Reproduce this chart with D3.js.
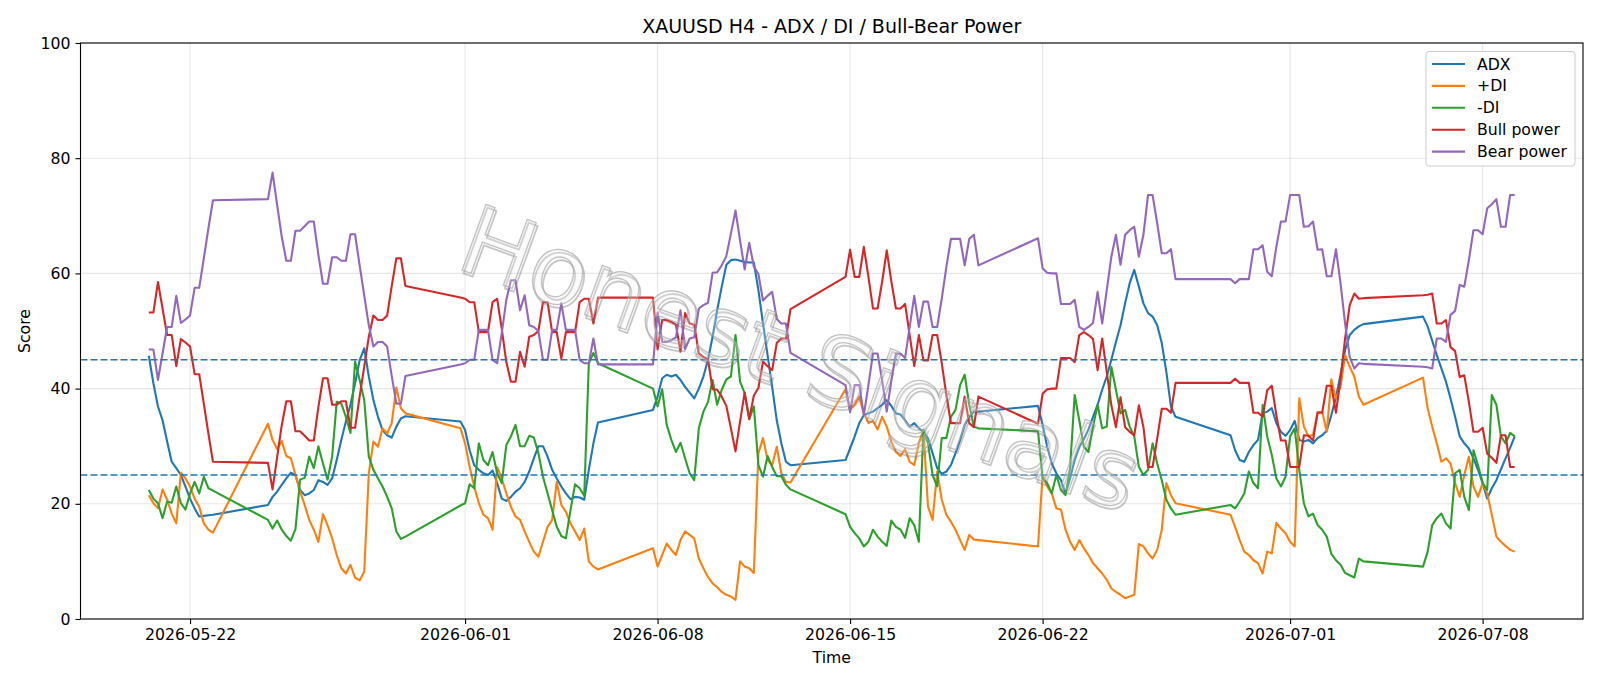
<!DOCTYPE html>
<head>
	<meta charset="utf-8">
	<script src="https://d3js.org/d3.v7.min.js"></script>
	<style type="text/css">
		body { margin: 0; background: #fff; }
		text { font-family: "DejaVu Sans", sans-serif; fill: #000; }
		.tick text { font-size: 15.7px; }
	</style>
</head>

<body>
	<script type="text/javascript">
		// H4 sessions: first bar of each trading block and number of bars in it
		const sessions = [
			["2026-05-20T12:00:00Z", 15],
			["2026-05-24T20:00:00Z", 31],
			["2026-05-31T20:00:00Z", 31],
			["2026-06-07T20:00:00Z", 31],
			["2026-06-14T20:00:00Z", 30],
			["2026-06-21T20:00:00Z", 31],
			["2026-06-28T20:00:00Z", 30],
			["2026-07-05T20:00:00Z", 21]
		];

		const adx = [
			45.7, 40.9, 36.9, 34.5, 30.8, 27.3, 26.2, 25.0, 23.0, 20.9, 19.2, 17.8, 17.9, 18.0, 18.1,
			19.8, 21.2, 22.1, 23.3, 24.4, 25.4, 25.0, 22.4, 21.5, 21.8, 22.4, 24.1, 23.8, 23.3, 24.4, 27.6, 31.1, 34.3, 37.2, 40.9, 44.9, 47.0, 42.1, 38.0, 35.1, 32.8, 31.9, 31.5, 33.4, 34.8, 35.2,
			34.3, 32.8, 29.3, 26.7, 25.9, 25.3, 25.0, 25.8, 23.6, 20.9, 20.5, 21.2, 22.1, 22.7, 23.8, 25.6, 27.9, 30.0, 30.0, 28.2, 25.9, 24.4, 23.0, 21.8, 20.8, 21.2, 21.1, 20.7, 25.9, 30.5, 34.1,
			36.3, 38.6, 41.8, 42.4, 42.1, 42.4, 41.5, 40.3, 39.3, 38.3, 40.0, 42.1, 45.0, 49.0, 53.6, 57.7, 61.5, 62.3, 62.4, 62.2, 62.0, 61.9, 61.9, 57.1, 51.3, 45.8, 40.3, 34.5, 30.5, 27.3, 26.7,
			27.6, 29.6, 31.7, 34.0, 35.4, 35.7, 36.0, 36.6, 37.2, 38.0, 37.0, 35.7, 35.5, 34.5, 33.4, 34.0, 33.1, 32.5, 31.4, 28.8, 26.2, 25.2, 25.6, 26.7, 28.8, 31.1, 33.7, 35.1, 36.0, 36.0,
			37.0, 33.7, 29.9, 27.0, 25.3, 24.1, 21.8, 24.4, 27.6, 29.8, 31.2, 32.9, 35.1, 37.2, 39.8, 42.1, 45.0, 48.1, 51.0, 54.8, 58.3, 60.6, 57.7, 54.8, 53.1, 52.5, 51.0, 47.9, 42.9, 36.9, 35.1,
			31.9, 29.3, 27.6, 27.3, 29.0, 30.2, 31.1, 35.7, 36.0, 36.6, 34.0, 32.5, 31.8, 32.8, 34.4, 31.1, 30.8, 31.1, 30.5, 31.4, 31.9, 32.7, 35.4, 38.5, 42.4, 46.7, 49.3, 50.2, 50.8, 51.2,
			52.5, 50.8, 48.3, 45.8, 43.5, 41.2, 38.3, 35.1, 31.7, 30.5, 29.6, 27.9, 25.9, 23.6, 20.9, 22.7, 24.1, 26.0, 27.9, 29.7, 31.7
		];
		const plusDI = [
			21.5, 20.1, 19.2, 22.5, 20.7, 18.3, 16.6, 25.4, 24.4, 23.0, 20.9, 19.5, 16.6, 15.5, 15.0,
			33.9, 31.1, 29.5, 30.9, 28.3, 27.9, 25.0, 22.1, 19.8, 17.2, 15.5, 13.4, 18.2, 16.3, 14.0, 11.1, 8.8, 7.9, 9.4, 7.2, 6.7, 8.2, 25.3, 30.8, 29.9, 33.1, 32.2, 34.0, 40.2, 36.6, 35.7,
			33.1, 30.5, 26.4, 23.0, 20.1, 18.1, 17.5, 15.5, 26.4, 24.4, 21.8, 19.5, 17.8, 17.2, 15.2, 13.4, 11.7, 10.8, 13.4, 16.0, 17.2, 23.8, 19.8, 18.6, 16.6, 15.2, 13.7, 15.7, 10.0, 9.1, 8.6,
			12.3, 9.1, 11.1, 13.1, 12.0, 11.1, 13.7, 15.2, 14.6, 14.0, 10.5, 8.8, 7.3, 6.2, 5.5, 4.7, 4.2, 3.9, 3.3, 10.0, 9.1, 8.8, 8.0, 28.8, 31.4, 27.6, 26.7, 29.9, 25.3, 23.8, 23.7,
			39.9, 36.3, 37.3, 38.6, 35.7, 34.0, 34.4, 32.9, 35.1, 33.4, 30.8, 29.0, 28.3, 29.5, 27.3, 26.7, 30.5, 32.8, 19.5, 17.2, 25.6, 20.7, 18.1, 16.9, 15.5, 13.7, 12.0, 14.6, 13.8, 13.7,
			12.6, 25.0, 23.0, 21.8, 19.2, 19.0, 15.5, 13.4, 12.0, 13.7, 12.3, 11.1, 9.7, 8.8, 7.9, 6.8, 5.3, 4.7, 4.2, 3.6, 3.9, 4.2, 13.0, 12.6, 11.4, 10.5, 12.0, 15.5, 23.6, 21.5, 20.1,
			18.1, 16.0, 13.7, 11.7, 11.1, 10.2, 9.7, 7.9, 11.7, 11.4, 16.7, 15.7, 14.9, 13.4, 12.6, 38.3, 33.4, 31.7, 32.0, 35.7, 36.0, 32.5, 41.6, 38.3, 40.3, 45.8, 43.8, 42.1, 38.6, 37.2,
			41.9, 36.6, 33.4, 30.5, 27.3, 27.9, 27.0, 23.6, 21.2, 25.0, 28.2, 23.0, 21.2, 23.6, 21.8, 18.1, 14.3, 13.4, 12.7, 12.0, 11.7
		];
		const minusDI = [
			22.4, 20.9, 20.1, 17.5, 20.4, 20.2, 23.0, 20.1, 19.0, 21.8, 23.8, 21.8, 24.7, 22.7, 22.3,
			17.2, 15.7, 17.1, 15.5, 14.4, 13.6, 15.6, 24.2, 24.5, 28.2, 26.2, 30.0, 27.0, 24.2, 28.2, 37.7, 37.4, 35.1, 32.3, 44.7, 41.5, 38.0, 28.2, 25.9, 24.4, 23.0, 21.2, 19.2, 15.2, 13.9, 14.3,
			19.7, 20.1, 23.4, 22.7, 30.5, 27.6, 26.7, 29.0, 25.3, 23.6, 30.2, 31.7, 33.7, 30.0, 30.0, 31.8, 31.5, 28.8, 24.7, 21.8, 18.9, 16.0, 14.4, 14.0, 18.9, 23.4, 22.7, 21.4, 44.4, 46.2, 44.4,
			40.0, 36.9, 39.9, 33.7, 31.1, 29.0, 30.6, 27.9, 25.3, 24.1, 33.1, 36.0, 37.7, 41.5, 37.2, 39.8, 41.6, 42.1, 49.3, 41.2, 39.2, 34.7, 36.9, 26.7, 24.7, 28.3, 26.4, 24.8, 24.8, 23.3, 22.5,
			18.2, 16.0, 14.9, 14.0, 12.6, 13.4, 15.5, 14.3, 13.4, 12.7, 17.1, 16.0, 15.5, 14.1, 17.5, 16.3, 13.4, 32.8, 30.5, 25.0, 23.0, 31.4, 31.4, 35.1, 36.3, 40.6, 42.4, 37.2, 33.4, 33.1,
			32.6, 24.4, 23.6, 21.8, 25.0, 22.4, 21.5, 26.2, 38.9, 34.5, 29.9, 29.0, 33.4, 37.2, 33.1, 33.4, 43.8, 39.8, 35.7, 36.3, 33.4, 31.7, 26.4, 25.0, 25.9, 30.5, 27.0, 24.1, 20.7, 19.2, 18.1,
			19.8, 19.2, 20.4, 21.8, 25.6, 23.6, 22.7, 37.2, 31.7, 28.5, 24.4, 23.0, 24.7, 31.7, 33.1, 25.9, 20.1, 17.8, 18.3, 16.3, 15.5, 14.3, 11.3, 10.2, 9.4, 8.0, 7.6, 7.2, 10.5, 10.0,
			9.1, 11.7, 16.3, 17.5, 18.3, 16.6, 15.7, 25.3, 25.9, 21.2, 18.9, 29.3, 26.7, 23.6, 22.4, 38.9, 37.2, 31.7, 30.5, 32.3, 31.7
		];
		const bullPower = [
			53.2, 53.2, 58.5, 53.9, 49.3, 49.3, 43.9, 48.6, 48.0, 47.3, 42.5, 42.5, 37.4, 32.2, 27.3,
			27.1, 22.5, 28.1, 33.6, 37.8, 37.8, 32.6, 32.6, 31.8, 31.0, 31.0, 36.8, 41.8, 41.8, 37.2, 37.2, 37.8, 37.8, 33.2, 33.2, 38.6, 43.8, 49.0, 52.7, 51.9, 51.9, 52.7, 57.8, 62.6, 62.6, 57.8,
			55.8, 55.6, 55.0, 55.0, 49.8, 49.8, 49.8, 55.0, 55.6, 50.4, 44.6, 41.2, 41.2, 46.4, 43.8, 49.0, 49.3, 50.0, 55.0, 55.0, 49.8, 49.8, 45.2, 49.8, 49.8, 49.8, 55.0, 55.6, 55.6, 51.3, 55.8,
			55.8, 46.8, 51.9, 51.9, 51.6, 51.1, 46.4, 53.1, 51.3, 51.1, 46.1, 45.5, 45.1, 39.9, 39.8, 38.6, 37.0, 33.1, 29.1, 34.3, 39.3, 34.7, 38.8, 40.1, 44.7, 43.9, 43.2, 47.9, 48.7, 48.7, 53.8,
			59.4, 64.1, 59.4, 59.4, 64.6, 59.4, 53.9, 53.9, 58.6, 64.0, 58.6, 53.9, 53.9, 54.7, 49.3, 43.9, 49.3, 44.9, 44.9, 49.3, 49.3, 44.4, 38.9, 34.0, 34.0, 34.0, 38.6, 34.0, 33.3, 38.6,
			33.9, 39.1, 39.9, 40.0, 40.0, 45.3, 45.3, 45.3, 44.6, 49.3, 49.8, 49.3, 48.6, 43.2, 48.7, 42.9, 37.1, 33.3, 38.5, 33.3, 32.5, 31.9, 37.1, 33.3, 26.4, 26.4, 31.3, 36.5, 36.5, 35.8, 41.0,
			41.0, 41.7, 41.0, 41.0, 41.0, 35.8, 35.8, 35.1, 39.7, 40.5, 35.4, 31.0, 31.0, 26.4, 26.4, 26.4, 31.9, 31.8, 31.0, 35.9, 35.8, 40.5, 40.5, 35.8, 41.7, 48.7, 54.5, 56.5, 55.6, 55.7,
			56.2, 56.3, 56.5, 51.3, 51.3, 51.9, 47.2, 46.5, 42.0, 42.3, 37.7, 32.5, 32.5, 33.2, 28.7, 28.0, 27.1, 31.9, 31.9, 26.4, 26.4
		];
		const bearPower = [
			46.8, 46.8, 41.5, 46.1, 50.7, 50.7, 56.1, 51.4, 52.0, 52.7, 57.5, 57.5, 62.6, 67.8, 72.7,
			72.9, 77.5, 71.9, 66.4, 62.2, 62.2, 67.4, 67.4, 68.2, 69.0, 69.0, 63.2, 58.2, 58.2, 62.8, 62.8, 62.2, 62.2, 66.8, 66.8, 61.4, 56.2, 51.0, 47.3, 48.1, 48.1, 47.3, 42.2, 37.4, 37.4, 42.2,
			44.2, 44.4, 45.0, 45.0, 50.2, 50.2, 50.2, 45.0, 44.4, 49.6, 55.4, 58.8, 58.8, 53.6, 56.2, 51.0, 50.7, 50.0, 45.0, 45.0, 50.2, 50.2, 54.8, 50.2, 50.2, 50.2, 45.0, 44.4, 44.4, 48.7, 44.2,
			44.2, 53.2, 48.1, 48.1, 48.4, 48.9, 53.6, 46.9, 48.7, 48.9, 53.9, 54.5, 54.9, 60.1, 60.2, 61.4, 63.0, 66.9, 70.9, 65.7, 60.7, 65.3, 61.2, 59.9, 55.3, 56.1, 56.8, 52.1, 51.3, 51.3, 46.2,
			40.6, 35.9, 40.6, 40.6, 35.4, 40.6, 46.1, 46.1, 41.4, 36.0, 41.4, 46.1, 46.1, 45.3, 50.7, 56.1, 50.7, 55.1, 55.1, 50.7, 50.7, 55.6, 61.1, 66.0, 66.0, 66.0, 61.4, 66.0, 66.7, 61.4,
			66.1, 60.9, 60.1, 60.0, 60.0, 54.7, 54.7, 54.7, 55.4, 50.7, 50.2, 50.7, 51.4, 56.8, 51.3, 57.1, 62.9, 66.7, 61.5, 66.7, 67.5, 68.1, 62.9, 66.7, 73.6, 73.6, 68.7, 63.5, 63.5, 64.2, 59.0,
			59.0, 58.3, 59.0, 59.0, 59.0, 64.2, 64.2, 64.9, 60.3, 59.5, 64.6, 69.0, 69.0, 73.6, 73.6, 73.6, 68.1, 68.2, 69.0, 64.1, 64.2, 59.5, 59.5, 64.2, 58.3, 51.3, 45.5, 43.5, 44.4, 44.3,
			43.8, 43.7, 43.5, 48.7, 48.7, 48.1, 52.8, 53.5, 58.0, 57.7, 62.3, 67.5, 67.5, 66.8, 71.3, 72.0, 72.9, 68.1, 68.1, 73.6, 73.6
		];

		const seriesNames = ["ADX", "+DI", "-DI", "Bull power", "Bear power"];
		const seriesValues = [adx, plusDI, minusDI, bullPower, bearPower];
		const seriesColors = ["#1f77b4", "#ff7f0e", "#2ca02c", "#d62728", "#9467bd"];
		const levels = [25, 45];
		const xTicks = ["2026-05-22", "2026-06-01", "2026-06-08", "2026-06-15", "2026-06-22", "2026-07-01", "2026-07-08"];
		const yTicks = [0, 20, 40, 60, 80, 100];
		const watermark = "Honest Signals";
	</script>
	<script type="text/javascript">
		const w = 1600,
			h = 686,
			plotL = 80.5,
			plotR = 1583,
			plotT = 43,
			plotB = 619;

		// bar times from the sessions
		let times = [];
		sessions.forEach(([start, n]) => {
			let t0 = new Date(start).getTime();
			for (let i = 0; i < n; i++) times.push(new Date(t0 + i * 4 * 3600 * 1000));
		});

		let svg = d3.select("body")
			.append("svg")
			.attr("width", w)
			.attr("height", h);

		// matplotlib style 5% margins on the time axis
		let ext = d3.extent(times),
			pad = (ext[1] - ext[0]) * 0.05;
		let x = d3.scaleUtc()
			.domain([new Date(+ext[0] - pad), new Date(+ext[1] + pad)])
			.range([plotL, plotR]);
		let y = d3.scaleLinear()
			.domain([0, 100])
			.range([plotB, plotT]);

		let tickDates = xTicks.map(s => new Date(s + "T00:00:00Z"));

		// grid
		let grid = svg.append("g").attr("stroke", "#b0b0b0").attr("stroke-opacity", 0.3).attr("stroke-width", 1.1);
		grid.selectAll("line.gx").data(tickDates).enter().append("line")
			.attr("x1", d => x(d)).attr("x2", d => x(d))
			.attr("y1", plotT).attr("y2", plotB);
		grid.selectAll("line.gy").data(yTicks).enter().append("line")
			.attr("x1", plotL).attr("x2", plotR)
			.attr("y1", d => y(d)).attr("y2", d => y(d));

		// series
		let line = d3.line()
			.x((d, i) => x(times[i]))
			.y(d => y(d));
		svg.selectAll("path.series").data(seriesValues).enter().append("path")
			.attr("class", "series")
			.attr("d", d => line(d))
			.attr("fill", "none")
			.attr("stroke", (d, i) => seriesColors[i])
			.attr("stroke-width", 2.1)
			.attr("stroke-linejoin", "round");

		// threshold lines
		svg.selectAll("line.level").data(levels).enter().append("line")
			.attr("x1", plotL).attr("x2", plotR)
			.attr("y1", d => y(d)).attr("y2", d => y(d))
			.attr("stroke", "#1f77b4")
			.attr("stroke-width", 1.4)
			.attr("stroke-dasharray", "7,3");

		// watermark, light outline with a soft shadow
		let wm = svg.append("g")
			.attr("transform", "translate(800,358) rotate(20)");
		wm.append("text")
			.attr("x", 2.5).attr("y", 2.5)
			.attr("text-anchor", "middle")
			.attr("dominant-baseline", "central")
			.style("font-size", "96px")
			.style("fill", "none")
			.style("stroke", "#808080")
			.style("stroke-opacity", 0.45)
			.style("stroke-width", 1.8)
			.text(watermark);
		wm.append("text")
			.attr("text-anchor", "middle")
			.attr("dominant-baseline", "central")
			.style("font-size", "96px")
			.style("fill", "#eeeeee")
			.style("fill-opacity", 0.25)
			.style("stroke", "#a8a8a8")
			.style("stroke-opacity", 0.7)
			.style("stroke-width", 1.3)
			.text(watermark);

		// axes
		let xAxis = svg.append("g")
			.attr("transform", "translate(0," + plotB + ")")
			.call(d3.axisBottom(x).tickValues(tickDates).tickFormat(d3.utcFormat("%Y-%m-%d")).tickSize(5).tickPadding(5).tickSizeOuter(0));
		let yAxis = svg.append("g")
			.attr("transform", "translate(" + plotL + ",0)")
			.call(d3.axisLeft(y).tickValues(yTicks).tickSize(5).tickPadding(5).tickSizeOuter(0));
		[xAxis, yAxis].forEach(a => {
			a.select(".domain").remove();
			a.selectAll(".tick line").attr("stroke", "#000").attr("stroke-width", 1.1);
			a.selectAll(".tick text").attr("fill", "#000");
		});

		// spines
		svg.append("rect")
			.attr("x", plotL).attr("y", plotT)
			.attr("width", plotR - plotL).attr("height", plotB - plotT)
			.attr("fill", "none")
			.attr("stroke", "#000")
			.attr("stroke-width", 1.1);

		// labels
		svg.append("text")
			.attr("x", (plotL + plotR) / 2).attr("y", 33)
			.attr("text-anchor", "middle")
			.style("font-size", "19px")
			.text("XAUUSD H4 - ADX / DI / Bull-Bear Power");
		svg.append("text")
			.attr("x", (plotL + plotR) / 2).attr("y", 663)
			.attr("text-anchor", "middle")
			.style("font-size", "15.7px")
			.text("Time");
		svg.append("text")
			.attr("transform", "translate(30," + ((plotT + plotB) / 2) + ") rotate(-90)")
			.attr("text-anchor", "middle")
			.style("font-size", "15.7px")
			.text("Score");

		// legend
		let lg = svg.append("g").attr("transform", "translate(1426,51.5)");
		lg.append("rect")
			.attr("width", 149).attr("height", 114.5)
			.attr("rx", 3)
			.attr("fill", "#fff").attr("fill-opacity", 0.8)
			.attr("stroke", "#cccccc");
		let item = lg.selectAll("g.item").data(seriesNames).enter().append("g")
			.attr("transform", (d, i) => "translate(0," + (12.5 + i * 21.9) + ")");
		item.append("line")
			.attr("x1", 6).attr("x2", 39)
			.attr("stroke", (d, i) => seriesColors[i])
			.attr("stroke-width", 2.1);
		item.append("text")
			.attr("x", 51)
			.attr("dominant-baseline", "central")
			.style("font-size", "15.7px")
			.text(d => d);
	</script>
</body>

</html>
